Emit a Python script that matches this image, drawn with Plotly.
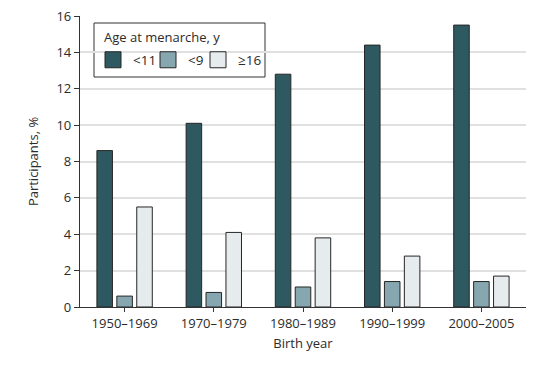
import plotly.graph_objects as go

categories = ["1950–1969", "1970–1979", "1980–1989", "1990–1999", "2000–2005"]
series_names = ["<11", "<9", "≥16"]
vals_lt11 = [8.6, 10.1, 12.8, 14.4, 15.5]
vals_lt9 = [0.6, 0.8, 1.1, 1.4, 1.4]
vals_ge16 = [5.5, 4.1, 3.8, 2.8, 1.7]
y_ticks = [0, 2, 4, 6, 8, 10, 12, 14, 16]
legend_title = "Age at menarche, y"

colors = ["#2f5961", "#86a7af", "#e6ebed"]
font_family = "Open Sans, Lato, sans-serif"
text_col = "#2b2b2b"
edge = "#262626"

W, H = 540, 370
BODY = 8  # default page body margin
L, R, T, B = 72, 22, 8, 71
PL, PR = L + BODY, W - R + BODY
PT, PB = T + BODY, H - B + BODY


def px(xp):
    return (xp - PL) / (PR - PL)


def py(yp):
    return (PB - yp) / (PB - PT)


fig = go.Figure()
for name, vals, col in zip(series_names, [vals_lt11, vals_lt9, vals_ge16], colors):
    fig.add_trace(go.Bar(
        x=categories, y=vals, name=name, showlegend=False,
        marker=dict(color=col, line=dict(color=edge, width=1)),
    ))

legend_ids = ["legend", "legend2", "legend3"]
legend_left = [93, 148, 198]
for name, col, lid in zip(series_names, colors, legend_ids):
    fig.add_trace(go.Scatter(
        x=[None], y=[None], name=name, mode="markers", legend=lid,
        marker=dict(symbol="square", size=16, color=col, line=dict(color=edge, width=1)),
    ))

leg_common = dict(orientation="h", bgcolor="rgba(0,0,0,0)", borderwidth=0,
                  font=dict(size=13.5), itemwidth=30, yanchor="middle", xanchor="left")
legends = {}
for lid, lx in zip(legend_ids, legend_left):
    legends[lid] = dict(x=px(lx), y=py(60), **leg_common)

fig.update_layout(
    width=W, height=H,
    margin=dict(l=L, r=R, t=T, b=B),
    paper_bgcolor="white", plot_bgcolor="white",
    barmode="group", bargap=0.33, bargroupgap=0.22,
    font=dict(family=font_family, size=12, color=text_col),
    **legends,
    shapes=[dict(type="rect", xref="paper", yref="paper",
                 x0=px(94), x1=px(265), y0=py(77), y1=py(23),
                 fillcolor="white", line=dict(color="#333333", width=1), layer="between")],
    annotations=[dict(text=legend_title, xref="paper", yref="paper",
                      x=px(102), y=py(37), xanchor="left", yanchor="middle",
                      showarrow=False, font=dict(size=13))],
    xaxis=dict(
        title=dict(text="Birth year", font=dict(size=13), standoff=8),
        automargin=False,
        showline=True, linecolor="#333333", linewidth=1.2,
        ticks="outside", ticklen=4, tickcolor="#333333",
        tickfont=dict(size=13),
        showgrid=False,
    ),
    yaxis=dict(
        title=dict(text="Participants, %", font=dict(size=13), standoff=14),
        automargin=False, ticklabeloverflow="allow",
        range=[0, 16], tickvals=y_ticks,
        showline=True, linecolor="#333333", linewidth=1.2,
        ticks="outside", ticklen=5, tickcolor="#333333",
        tickfont=dict(size=13),
        showgrid=True, gridcolor="#e0e0e0", gridwidth=1.5,
        zeroline=False,
    ),
)

fig.write_html("out.html")
